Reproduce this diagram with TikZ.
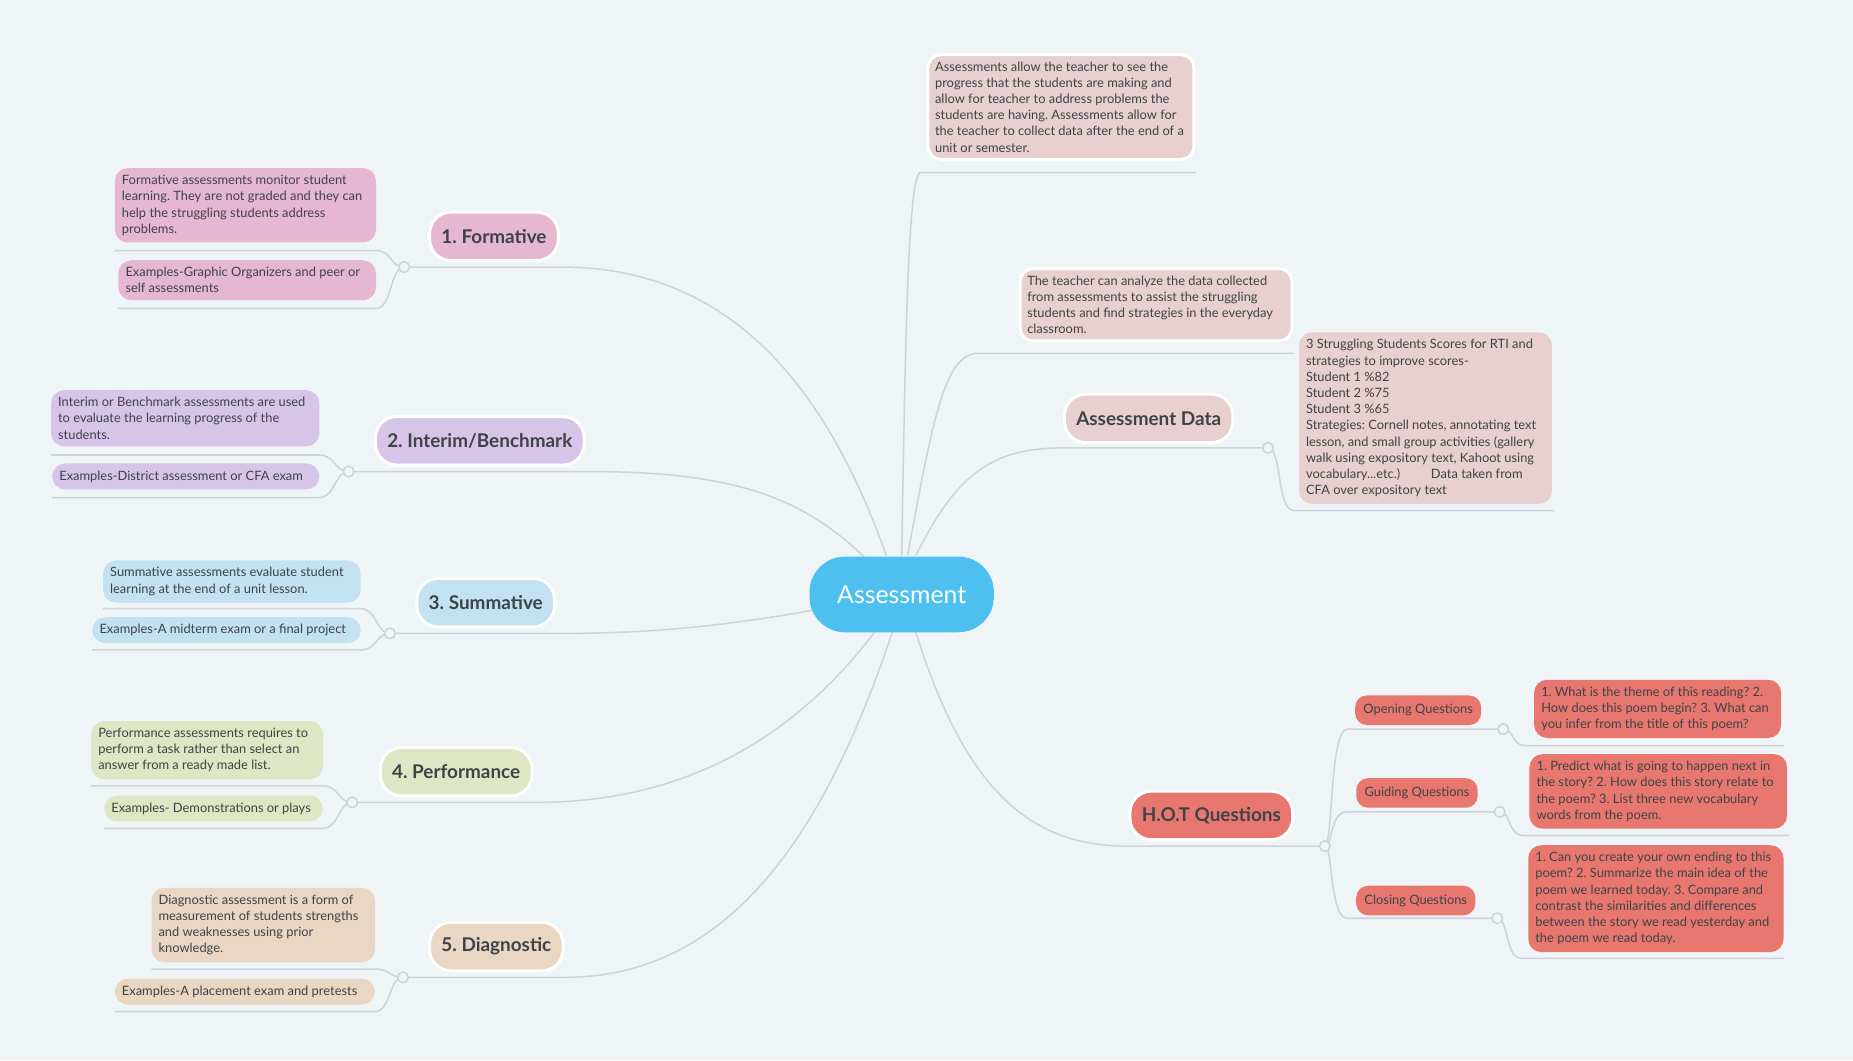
\documentclass[tikz,border=0pt]{standalone}
\usepackage{fontspec}
\setmainfont{Lato}
\definecolor{bg}{HTML}{EFF4F7}
\definecolor{ln}{HTML}{CDD3D8}
\definecolor{txt}{HTML}{3E4348}
\definecolor{cpink}{HTML}{E6B7D1}
\definecolor{cpurp}{HTML}{D6C5E8}
\definecolor{cblue}{HTML}{C2E1F1}
\definecolor{cgreen}{HTML}{DEE6C4}
\definecolor{ctan}{HTML}{E9D6C3}
\definecolor{crose}{HTML}{E8CFD0}
\definecolor{cred}{HTML}{E8776F}
\definecolor{ccent}{HTML}{4EC0F0}
\frenchspacing
\hyphenpenalty=10000
\tikzset{
 leaf/.style={rounded corners=11pt, inner xsep=6pt, inner ysep=6pt, align=flush left, text=txt, font=\fontsize{10.9}{13.7}\selectfont, anchor=north west},
 mainnode/.style={rounded corners=18pt, draw=white, line width=2.5pt, minimum height=41pt, inner xsep=10pt, text=txt, font=\fontsize{16}{18}\selectfont\bfseries},
 con/.style={draw=ln, line width=1.3pt},
 dot/.style={circle, draw=ln, line width=1.3pt, fill=bg, inner sep=0pt, minimum size=9pt},
 small/.style={rounded corners=10pt, minimum height=25pt, inner xsep=7pt, text=txt, font=\fontsize{10.9}{12}\selectfont},
}
\begin{document}
\begin{tikzpicture}[x=1pt,y=-1pt]
\fill[bg] (0,0) rectangle (1568,897);
\useasboundingbox (0,0) rectangle (1568,897);
\coordinate (c) at (763,503);
% connectors from center
\draw[con] (750,470) .. controls (700,330) and (620,226) .. (475,226) -- (342,226);
\draw[con] (735,475) .. controls (680,420) and (620,399) .. (497,399) -- (295,399);
\draw[con] (690,516) .. controls (600,532) and (540,536) .. (472,536) -- (330,536);
\draw[con] (740,535) .. controls (660,640) and (560,679) .. (453,679) -- (298,679);
\draw[con] (755,535) .. controls (700,700) and (620,827) .. (478,827) -- (341,827);
\draw[con] (763,470) .. controls (766,300) and (768,146) .. (779,146) -- (1012,146);
\draw[con] (768,470) .. controls (790,350) and (800,299) .. (828,299) -- (1095,299);
\draw[con] (775,470) .. controls (810,400) and (840,379) .. (900,379) -- (1073,379);
\draw[con] (775,535) .. controls (820,680) and (880,716) .. (955,716) -- (1121,716);
% left leaf underlines
\draw[con] (97,212) -- (318,212) .. controls (332,212) and (330,226) .. (342,226);
\draw[con] (100,261) -- (318,261) .. controls (332,261) and (330,226) .. (342,226);
\draw[con] (43,385) -- (270,385) .. controls (284,385) and (283,399) .. (295,399);
\draw[con] (44,421) -- (270,421) .. controls (284,421) and (283,399) .. (295,399);
\draw[con] (87,515) -- (305,515) .. controls (319,515) and (318,536) .. (330,536);
\draw[con] (78,550) -- (305,550) .. controls (319,550) and (318,536) .. (330,536);
\draw[con] (77,665) -- (273,665) .. controls (287,665) and (286,679) .. (298,679);
\draw[con] (88,701) -- (273,701) .. controls (287,701) and (286,679) .. (298,679);
\draw[con] (128,820) -- (317,820) .. controls (331,820) and (329,827) .. (341,827);
\draw[con] (97,856) -- (317,856) .. controls (331,856) and (329,827) .. (341,827);
% assessment data
\draw[con] (1073,379) .. controls (1085,379) and (1080,432) .. (1095,432) -- (1315,432);
% HOT
\draw[con] (1121,716) .. controls (1128,716) and (1125,617) .. (1140,617) -- (1272,617);
\draw[con] (1121,716) .. controls (1128,716) and (1125,687) .. (1140,687) -- (1269,687);
\draw[con] (1121,716) .. controls (1128,716) and (1125,777) .. (1140,777) -- (1267,777);
\draw[con] (1272,617) .. controls (1282,617) and (1278,631) .. (1292,631) -- (1510,631);
\draw[con] (1269,687) .. controls (1279,687) and (1275,707) .. (1290,707) -- (1514,707);
\draw[con] (1267,777) .. controls (1277,777) and (1273,811) .. (1288,811) -- (1510,811);
% dots
\foreach \p in {(342,226),(295,399),(330,536),(298,679),(341,827),(1073,379),(1121,716),(1272,617),(1269,687),(1267,777)}
  \node[dot] at \p {};
% center
\node[fill=ccent, rounded corners=30pt, minimum width=156pt, minimum height=64pt, text=white, font=\fontsize{21}{24}\selectfont] (center) at (c) {Assessment};
% main nodes
\node[mainnode, fill=cpink] (f) at (418,200) {1. Formative};
\node[mainnode, fill=cpurp] (i) at (406,373) {2. Interim/Benchmark};
\node[mainnode, fill=cblue] (s) at (411,510) {3. Summative};
\node[mainnode, fill=cgreen] (p) at (386,653) {4. Performance};
\node[mainnode, fill=ctan] (d) at (420,801) {5. Diagnostic};
\node[mainnode, fill=crose] (ad) at (972,354) {Assessment Data};
\node[mainnode, fill=cred] (hot) at (1025,690) {H.O.T Questions};
% left leaves
\node[leaf, fill=cpink, text width=209pt] (f1) at (97,142) {Formative assessments monitor student learning. They are not graded and they can help the struggling students address problems.};
\node[leaf, fill=cpink, text width=206pt] (f2) at (100,220) {Examples-Graphic Organizers and peer or self assessments};
\node[leaf, fill=cpurp, text width=215pt] (i1) at (43,330) {Interim or Benchmark assessments are used to evaluate the learning progress of the students.};
\node[leaf, fill=cpurp, text width=214pt] (i2) at (44,392) {Examples-District assessment or CFA exam};
\node[leaf, fill=cblue, text width=206pt] (s1) at (87,474) {Summative assessments evaluate student learning at the end of a unit lesson.};
\node[leaf, fill=cblue, text width=215pt] (s2) at (78,522) {Examples-A midterm exam or a final project};
\node[leaf, fill=cgreen, text width=184pt] (p1) at (77,610) {Performance assessments requires to perform a task rather than select an answer from a ready made list.};
\node[leaf, fill=cgreen, text width=173pt] (p2) at (88,673) {Examples- Demonstrations or plays};
\node[leaf, fill=ctan, text width=177pt] (d1) at (128,751) {Diagnostic assessment is a form of measurement of students strengths and weaknesses using prior knowledge.};
\node[leaf, fill=ctan, text width=208pt] (d2) at (97,828) {Examples-A placement exam and pretests};
% right leaves
\node[leaf, fill=crose, draw=white, line width=2.5pt, text width=213pt] (t1) at (784,45) {Assessments allow the teacher to see the progress that the students are making and allow for teacher to address problems the students are having. Assessments allow for the teacher to collect data after the end of a unit or semester.};
\node[leaf, fill=crose, draw=white, line width=2.5pt, text width=218pt] (t2) at (862,226) {The teacher can analyze the data collected from assessments to assist the struggling students and find strategies in the everyday classroom.};
\node[leaf, fill=crose, text width=202pt] (ad1) at (1099,281) {3 Struggling Students Scores for RTI and strategies to improve scores-\\Student 1 \%82\\Student 2 \%75\\Student 3 \%65\\Strategies: Cornell notes, annotating text lesson, and small group activities (gallery walk using expository text, Kahoot using vocabulary...etc.)\hspace{26pt}Data taken from CFA over expository text};
\node[small, fill=cred] (o) at (1200,601) {Opening Questions};
\node[small, fill=cred] (g) at (1199,671) {Guiding Questions};
\node[small, fill=cred] (cl) at (1198,762) {Closing Questions};
\node[leaf, fill=cred, text width=197pt] (o1) at (1298,575) {1. What is the theme of this reading? 2. How does this poem begin? 3. What can you infer from the title of this poem?};
\node[leaf, fill=cred, text width=206pt] (g1) at (1294,638) {1. Predict what is going to happen next in the story? 2. How does this story relate to the poem? 3. List three new vocabulary words from the poem.};
\node[leaf, fill=cred, text width=204pt] (c1) at (1293,715) {1. Can you create your own ending to this poem? 2. Summarize the main idea of the poem we learned today. 3. Compare and contrast the similarities and differences between the story we read yesterday and the poem we read today.};
\end{tikzpicture}
\end{document}
